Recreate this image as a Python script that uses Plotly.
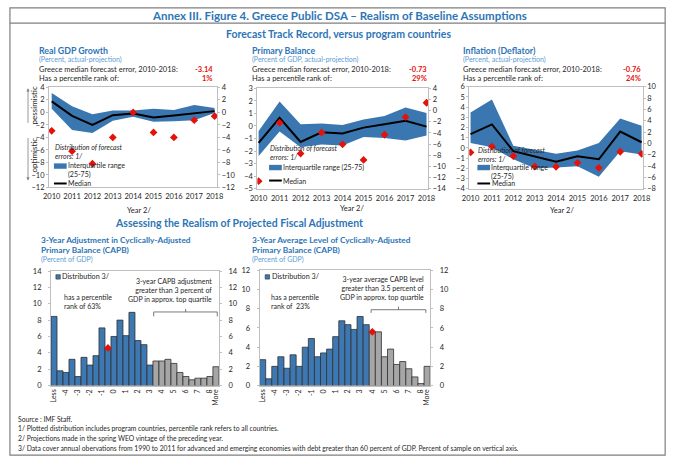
import plotly.graph_objects as go

W, H = 680, 468

# ---------------- data ----------------
years = [2010, 2011, 2012, 2013, 2014, 2015, 2016, 2017, 2018]

gdp_p25 = [0.6, -2.8, -3.3, -1.35, -0.7, -1.5, -1.4, -1.25, -0.1]
gdp_p75 = [3.1, 1.0, -0.3, 0.3, 0.3, 0.6, 0.4, 1.2, 0.7]
gdp_med = [1.75, -0.55, -2.0, -0.45, -0.2, -0.8, -0.5, -0.1, 0.2]
gdp_greece = [-2.95, -6.2, -8.2, -4.0, 0.0, -3.2, -4.0, -1.25, -0.6]

pb_p25 = [-2.4, -0.45, -1.7, -1.48, -1.56, -0.88, -0.96, -1.15, -0.75]
pb_p75 = [-0.4, 1.95, 0.13, 0.2, 0.08, 0.52, 0.8, 1.48, 1.04]
pb_med = [-1.35, 0.65, -1.28, -0.5, -0.6, -0.13, 0.13, 0.42, -0.05]
pb_greece = [-4.4, 0.26, -2.2, -0.52, -1.46, -2.71, -0.7, 0.7, 1.85]

infl_p25 = [0.48, 0.06, -1.12, -2.0, -1.92, -1.8, -2.82, -0.32, -0.64]
infl_p75 = [3.46, 4.75, 0.22, -0.16, -0.58, -0.26, 0.48, 2.88, 2.18]
infl_med = [1.35, 2.3, -0.32, -0.8, -1.35, -0.83, -1.12, 1.6, 0.55]
infl_greece = [-0.45, 0.13, -0.8, -1.83, -1.86, -1.47, -1.96, -0.38, -0.58]

bins = ["Less", "-4.5", "-4", "-3.5", "-3", "-2.5", "-2", "-1.5", "-1", "-0.5",
        "0", "0.5", "1", "1.5", "2", "2.5", "3", "3.5", "4", "4.5", "5", "5.5",
        "6", "6.5", "7", "7.5", "8", "More"]
bin_labels = ["Less", "-4", "-3", "-2", "-1", "0", "1", "2", "3", "4", "5", "6", "7", "8", "More"]

adj_vals = [8.45, 1.8, 1.6, 3.2, 1.1, 3.45, 2.5, 3.65, 7.05, 4.6, 6.0, 8.0, 6.1, 8.95, 5.5, 5.0, 2.5,
            3.0, 3.0, 3.2, 2.7, 1.6, 1.1, 0.7, 0.9, 0.9, 1.1, 2.3]
adj_top_start = "3.5"          # first bin of the top quartile (grey)
adj_greece = ("-0.5", 4.6)

lvl_vals = [2.7, 0.7, 2.0, 3.0, 1.8, 3.2, 2.0, 4.0, 4.9, 3.0, 3.4, 3.8, 5.1, 6.75, 6.35, 5.85, 7.2, 6.35,
            5.6, 5.6, 3.0, 3.8, 2.2, 2.5, 1.75, 0.9, 0.2, 2.0]
lvl_top_start = "4"
lvl_greece = ("4", 5.6)

# ---------------- style ----------------
FONT = "Lato"
NFONT = "Liberation Sans Narrow, Arial Narrow, Lato, sans-serif"
BLUE_T = "#2E75B6"
BLUE_S = "#5B9BD5"
BAND = "#3A77B0"
RED = "#E3120B"
BAR_BLUE = "#3E78B2"
BAR_GREY = "#A6A6A6"
TXT = "#262626"
FRAME = "#BFBFBF"


def X(px):
    return px / W


def Y(py):
    return 1 - py / H


fig = go.Figure()
ann = []
shapes = []


def text(x, y, s, size=7, color=TXT, xanchor="left", angle=0, family=NFONT, align=None):
    ann.append(dict(x=X(x), y=Y(y), xref="paper", yref="paper", text=s, showarrow=False,
                    xanchor=xanchor, yanchor="middle", textangle=angle, borderpad=0,
                    align=align if align else ("right" if xanchor == "right" else "left"),
                    font=dict(family=family, size=size, color=color)))


def line(x0, y0, x1, y1, color=TXT, width=1):
    shapes.append(dict(type="line", xref="paper", yref="paper", x0=X(x0), y0=Y(y0),
                       x1=X(x1), y1=Y(y1), line=dict(color=color, width=width)))


def rect(x0, y0, x1, y1, fill=None, color=TXT, width=1):
    shapes.append(dict(type="rect", xref="paper", yref="paper", x0=X(x0), y0=Y(y0),
                       x1=X(x1), y1=Y(y1), fillcolor=fill if fill else "rgba(0,0,0,0)",
                       line=dict(color=color, width=width)))


tickfont = dict(family=NFONT, size=7.5, color=TXT)

# ---------------- line charts ----------------
line_charts = [
    dict(p25=gdp_p25, p75=gdp_p75, med=gdp_med, gr=gdp_greece, xdom=(43, 215), ydom=(85, 187),
         xr=(2009.87, 2018.13), yl=(-12, 4), yr=(-12, 4), dl=2, dr=2),
    dict(p25=pb_p25, p75=pb_p75, med=pb_med, gr=pb_greece, xdom=(256, 430.7), ydom=(86, 188.3),
         xr=(2009.94, 2018.08), yl=(-5, 3), yr=(-14, 4), dl=1, dr=2),
    dict(p25=infl_p25, p75=infl_p75, med=infl_med, gr=infl_greece, xdom=(472.7, 650), ydom=(84.3, 188.3),
         xr=(2009.94, 2018.05), yl=(-4, 6), yr=(-8, 10), dl=1, dr=2),
]

layout_axes = {}
ax = 1
for c in line_charts:
    xa = "x" if ax == 1 else f"x{ax}"
    ya = "y" if ax == 1 else f"y{ax}"
    yb = f"y{ax + 1}"
    xkey = "xaxis" if ax == 1 else f"xaxis{ax}"
    ykey = "yaxis" if ax == 1 else f"yaxis{ax}"
    ykey2 = f"yaxis{ax + 1}"
    fig.add_trace(go.Scatter(x=years, y=c["p25"], mode="lines", line=dict(width=0, color=BAND),
                             xaxis=xa, yaxis=ya, showlegend=False, hoverinfo="skip"))
    fig.add_trace(go.Scatter(x=years, y=c["p75"], mode="lines", line=dict(width=0, color=BAND),
                             fill="tonexty", fillcolor=BAND, xaxis=xa, yaxis=ya, showlegend=False))
    fig.add_trace(go.Scatter(x=years, y=c["med"], mode="lines", line=dict(width=2, color="black"),
                             xaxis=xa, yaxis=ya, showlegend=False))
    fig.add_trace(go.Scatter(x=years, y=c["gr"], mode="markers",
                             marker=dict(symbol="diamond", size=6, color=RED),
                             xaxis=xa, yaxis=ya, showlegend=False))
    fig.add_trace(go.Scatter(x=[years[0]], y=[c["yr"][0]], mode="markers", marker=dict(opacity=0),
                             xaxis=xa, yaxis=yb, showlegend=False, hoverinfo="skip"))
    layout_axes[xkey] = dict(domain=[X(c["xdom"][0]), X(c["xdom"][1])], anchor=ya, range=list(c["xr"]),
                             tickvals=years, ticks="", showline=True, mirror=True, linecolor=FRAME,
                             linewidth=1, showgrid=False, zeroline=False, ticklabelstandoff=2,
                             tickfont=dict(family=NFONT, size=7.5, color=TXT))
    layout_axes[ykey] = dict(domain=[Y(c["ydom"][1]), Y(c["ydom"][0])], anchor=xa, range=list(c["yl"]),
                             dtick=c["dl"], showline=True, mirror=True, linecolor=FRAME, linewidth=1,
                             showgrid=False, zeroline=False, ticks="outside", ticklen=2,
                             tickcolor=FRAME, tickfont=tickfont)
    layout_axes[ykey2] = dict(overlaying=ya, anchor=xa, side="right", range=list(c["yr"]),
                              dtick=c["dr"], showline=False, showgrid=False, zeroline=False,
                              ticks="outside", ticklen=2, tickcolor=FRAME, tickfont=tickfont)
    ax += 2

# ---------------- histograms ----------------
hists = [
    dict(vals=adj_vals, top=adj_top_start, gr=adj_greece, xdom=(45, 216.7), ydom=(272.3, 389), yr=(0, 14)),
    dict(vals=lvl_vals, top=lvl_top_start, gr=lvl_greece, xdom=(258.3, 432.7), ydom=(271.7, 389), yr=(0, 12)),
]
for h in hists:
    xa = f"x{ax}"
    ya = f"y{ax}"
    yb = f"y{ax + 1}"
    k = bins.index(h["top"])
    fig.add_trace(go.Bar(x=bins[:k], y=h["vals"][:k], marker=dict(color=BAR_BLUE, line=dict(color="#303030", width=0.8)),
                         width=1, xaxis=xa, yaxis=ya, showlegend=False))
    fig.add_trace(go.Bar(x=bins[k:], y=h["vals"][k:], marker=dict(color=BAR_GREY, line=dict(color="#303030", width=0.8)),
                         width=1, xaxis=xa, yaxis=ya, showlegend=False))
    fig.add_trace(go.Scatter(x=[h["gr"][0]], y=[h["gr"][1]], mode="markers",
                             marker=dict(symbol="diamond", size=6, color=RED),
                             xaxis=xa, yaxis=ya, showlegend=False))
    fig.add_trace(go.Scatter(x=[bins[0]], y=[0], mode="markers", marker=dict(opacity=0),
                             xaxis=xa, yaxis=yb, showlegend=False, hoverinfo="skip"))
    layout_axes[f"xaxis{ax}"] = dict(domain=[X(h["xdom"][0]), X(h["xdom"][1])], anchor=ya, type="category",
                                     categoryorder="array", categoryarray=bins, range=[-0.5, len(bins) - 0.5],
                                     tickvals=bin_labels, ticktext=bin_labels, tickangle=-90, ticks="",
                                     showline=True, mirror=True, linecolor=FRAME, showgrid=False,
                                     tickfont=dict(family=NFONT, size=7, color=TXT))
    layout_axes[f"yaxis{ax}"] = dict(domain=[Y(h["ydom"][1]), Y(h["ydom"][0])], anchor=xa, range=list(h["yr"]),
                                     dtick=2, showline=True, mirror=True, linecolor=FRAME, showgrid=False,
                                     zeroline=False, ticks="outside", ticklen=2, tickcolor=FRAME,
                                     ticklabelstandoff=5, tickfont=tickfont)
    layout_axes[f"yaxis{ax + 1}"] = dict(overlaying=ya, anchor=xa, side="right", range=list(h["yr"]), dtick=2,
                                         showline=False, showgrid=False, zeroline=False, ticks="outside",
                                         ticklen=2, tickcolor=FRAME, ticklabelstandoff=5, tickfont=tickfont)
    ax += 2

# ---------------- frame & titles ----------------
rect(3, 4, 673, 460, color="#7F7F7F", width=1.2)
line(3, 19.5, 673, 19.5, color="#7F7F7F", width=1.2)
text(340, 12, "<b>Annex III. Figure 4. Greece Public DSA – Realism of Baseline Assumptions</b>", size=11.5, color=BLUE_T, xanchor="center", family=FONT)
text(339, 31, "<b>Forecast Track Record, versus program countries</b>", size=10.5, color=BLUE_T, xanchor="center", family=FONT)

tops = [
    (32, 212, "Real GDP Growth", "(Percent, actual-projection)", "-3.14", "1%"),
    (250, 431, "Primary Balance", "(Percent of GDP, actual-projection)", "-0.73", "29%"),
    (465, 649, "Inflation (Deflator)", "(Percent, actual-projection)", "-0.76", "24%"),
]
for x0, xr, t, sub, v1, v2 in tops:
    text(x0, 47, f"<b>{t}</b>", size=8.8, color=BLUE_T)
    text(x0, 57, sub, size=7, color=BLUE_S)
    text(x0, 66.5, "Greece median forecast error, 2010-2018:", size=7.5)
    text(x0, 76, "Has a percentile rank of:", size=7.5)
    text(xr, 66.5, f"<b>{v1}</b>", size=7.5, color=RED, xanchor="right")
    text(xr, 76, f"<b>{v2}</b>", size=7.5, color=RED, xanchor="right")

# legends inside line charts
legs = [
    dict(x=48, d=150.5, patch=(162.5, 168), iq=("Interquartile range<br>(25-75)", 169.5), med=183),
    dict(x=268, d=151, patch=(164, 169.5), iq=("Interquartile range (25-75)", 166.7), med=180),
    dict(x=481, d=153, patch=(164, 169.5), iq=("Interquartile range<br>(25-75)", 171), med=183),
]
for L in legs:
    x = L["x"]
    text(x, L["d"], "<i>Distribution of forecast<br>errors: 1/</i>", size=7)
    rect(x, L["patch"][0], x + 13, L["patch"][1], fill=BAND, color=BAND, width=0)
    text(x + 13, L["iq"][1], L["iq"][0], size=7)
    line(x, L["med"], x + 13, L["med"], color="black", width=2)
    text(x + 13.5, L["med"], "Median", size=7)

text(135, 210.5, "Year 2/", size=7.5, xanchor="center")
text(353, 208.5, "Year 2/", size=7.5, xanchor="center")
text(568, 210.5, "Year 2/", size=7.5, xanchor="center")

# pessimistic / optimistic
text(28, 103, "pessimistic", size=8, xanchor="center", angle=-90)
text(28, 154, "optimistic", size=8, xanchor="center", angle=-90)
for (xh, yh, xt, yt) in [(21.5, 86, 21.5, 122), (21.5, 180, 21.5, 136)]:
    ann.append(dict(x=X(xh), y=Y(yh), xref="paper", yref="paper", ax=xt - xh, ay=yt - yh,
                    axref="pixel", ayref="pixel", text="", showarrow=True, arrowhead=2,
                    arrowsize=0.8, arrowwidth=0.8, arrowcolor="#7F7F7F"))

# ---------------- lower section ----------------
text(237, 223.5, "<b>Assessing the Realism of Projected Fiscal Adjustment</b>", size=10.5, color=BLUE_T, xanchor="center", family=FONT)
text(34, 241, "<b>3-Year Adjustment in Cyclically-Adjusted</b>", size=8.3, color=BLUE_T)
text(34, 251, "<b>Primary Balance (CAPB)</b>", size=8.3, color=BLUE_T)
text(34, 260, "(Percent of GDP)", size=7, color=BLUE_S)
text(250, 241, "<b>3-Year Average Level of Cyclically-Adjusted</b>", size=8.3, color=BLUE_T)
text(250, 251, "<b>Primary Balance (CAPB)</b>", size=8.3, color=BLUE_T)
text(250, 260, "(Percent of GDP)", size=7, color=BLUE_S)

# histogram 1 texts
rect(50, 276, 54.5, 280.5, fill=BAR_BLUE, color="#303030", width=0.6)
text(55.5, 278.3, "Distribution 3/", size=7.2)
text(57, 303, "has a percentile<br>rank of 63%", size=7)
text(211, 291.2, "3-year CAPB adjustment<br>greater than 3 percent of<br>GDP in approx. top quartile", size=7, xanchor="right")
line(150, 314, 215, 314, color="#595959", width=0.8)
line(150, 314, 150, 318.5, color="#595959", width=0.8)
line(215, 314, 215, 318.5, color="#595959", width=0.8)
line(182.7, 314, 182.7, 311, color="#595959", width=0.8)

# histogram 2 texts
rect(264, 276, 268.5, 280.5, fill=BAR_BLUE, color="#303030", width=0.6)
text(269.5, 278.3, "Distribution 3/", size=7.2)
text(269, 303, "has a percentile<br>rank of  23%", size=7)
text(427.5, 289.4, "3-year average CAPB level<br>greater than 3.5 percent of<br>GDP in approx. top quartile", size=7, xanchor="right")
line(372.3, 311.7, 428.3, 311.7, color="#595959", width=0.8)
line(372.3, 311.7, 372.3, 315, color="#595959", width=0.8)
line(428.3, 311.7, 428.3, 315, color="#595959", width=0.8)
line(400.3, 311.7, 400.3, 308.5, color="#595959", width=0.8)

# footnotes
foot = [
    "Source : IMF Staff.",
    "1/ Plotted distribution includes program countries, percentile rank refers to all countries.",
    "2/ Projections made in the spring WEO vintage of the preceding year.",
    "3/ Data cover annual obervations from 1990 to 2011 for advanced and emerging economies with debt greater than 60 percent of GDP. Percent of sample on vertical axis.",
]
for i, s in enumerate(foot):
    text(10, 423.5 + i * 9.6, s, size=6.75)

fig.update_layout(width=W, height=H, margin=dict(l=0, r=0, t=0, b=0),
                  paper_bgcolor="white", plot_bgcolor="white", showlegend=False,
                  barmode="overlay", annotations=ann, shapes=shapes,
                  font=dict(family=NFONT, size=7, color=TXT), **layout_axes)

fig.write_html("out.html", config={"displayModeBar": False},
               post_script="document.body.style.margin='0';document.body.style.overflow='hidden';")
